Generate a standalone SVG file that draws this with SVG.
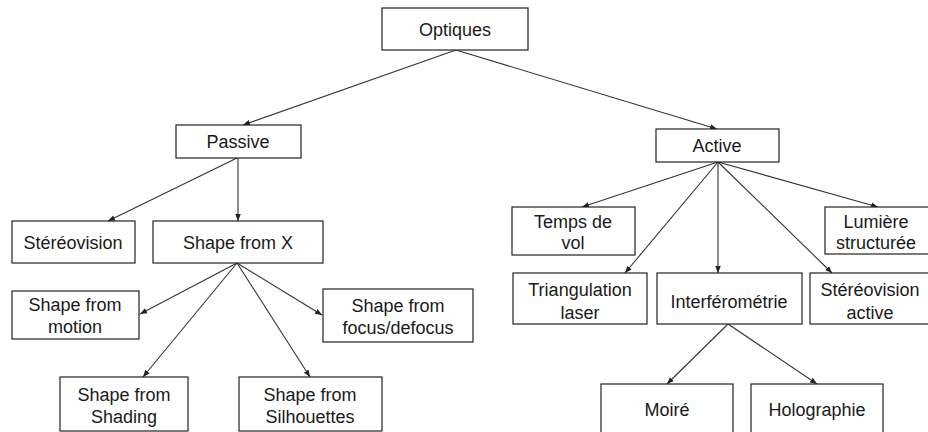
<svg xmlns="http://www.w3.org/2000/svg" width="928" height="432" viewBox="0 0 928 432">
<defs>
<marker id="ah" viewBox="0 0 10 10" refX="10" refY="5" markerWidth="7" markerHeight="7" markerUnits="userSpaceOnUse" orient="auto">
<path d="M0,1 L10,5 L0,9 z" fill="#222"/>
</marker>
<style>
rect{fill:#fff;stroke:#222;stroke-width:1.2}
text{font-family:"Liberation Sans",Arial,sans-serif;font-size:18px;fill:#1a1a1a;text-anchor:middle}
#edges line{stroke:#333;stroke-width:1.1;marker-end:url(#ah)}
</style>
</defs>
<rect x="0" y="0" width="928" height="432" style="fill:#fff;stroke:none"/>
<g id="edges">
<line x1="456" y1="50" x2="243" y2="125"/>
<line x1="456" y1="50" x2="717" y2="129"/>
<line x1="237" y1="158" x2="108" y2="221"/>
<line x1="238" y1="158" x2="238" y2="221"/>
<line x1="237" y1="263" x2="140" y2="314"/>
<line x1="237" y1="263" x2="322" y2="315"/>
<line x1="237" y1="263" x2="143" y2="377"/>
<line x1="237" y1="263" x2="310" y2="377"/>
<line x1="718" y1="162" x2="582" y2="207"/>
<line x1="718" y1="162" x2="878" y2="207"/>
<line x1="718" y1="162" x2="625" y2="273"/>
<line x1="718" y1="162" x2="718" y2="273"/>
<line x1="718" y1="162" x2="832" y2="273"/>
<line x1="728" y1="324" x2="667" y2="384"/>
<line x1="728" y1="324" x2="817" y2="384"/>
</g>
<g id="optiques"><rect x="382" y="8" width="146" height="42"/><text x="455" y="36">Optiques</text></g>
<g id="passive"><rect x="176" y="125" width="125" height="33"/><text x="238" y="148">Passive</text></g>
<g id="active"><rect x="656" y="129" width="123" height="33"/><text x="717" y="152">Active</text></g>
<g id="stereovision"><rect x="12" y="221" width="123" height="42"/><text x="73" y="249">Stéréovision</text></g>
<g id="shape-x"><rect x="153" y="221" width="170" height="42"/><text x="238" y="249">Shape from X</text></g>
<g id="shape-motion"><rect x="12" y="291" width="127" height="48"/><text x="75" y="311">Shape from</text><text x="75" y="333">motion</text></g>
<g id="shape-focus"><rect x="323" y="289" width="150" height="53"/><text x="398" y="312">Shape from</text><text x="398" y="334">focus/defocus</text></g>
<g id="shape-shading"><rect x="60" y="377" width="128" height="54"/><text x="124" y="401">Shape from</text><text x="124" y="423">Shading</text></g>
<g id="shape-silhouettes"><rect x="239" y="377" width="143" height="54"/><text x="310" y="401">Shape from</text><text x="310" y="423">Silhouettes</text></g>
<g id="temps-vol"><rect x="512" y="207" width="123" height="48"/><text x="573" y="228">Temps de</text><text x="573" y="249">vol</text></g>
<g id="lumiere"><rect x="825" y="207" width="110" height="47"/><text x="876" y="228">Lumière</text><text x="876" y="249">structurée</text></g>
<g id="triangulation"><rect x="513" y="273" width="134" height="51"/><text x="580" y="296">Triangulation</text><text x="580" y="319">laser</text></g>
<g id="interferometrie"><rect x="657" y="273" width="145" height="51"/><text x="729" y="308">Interférométrie</text></g>
<g id="stereo-active"><rect x="810" y="273" width="125" height="51"/><text x="870" y="296">Stéréovision</text><text x="870" y="319">active</text></g>
<g id="moire"><rect x="601" y="384" width="132" height="60"/><text x="667" y="416">Moiré</text></g>
<g id="holographie"><rect x="751" y="384" width="132" height="60"/><text x="817" y="416">Holographie</text></g>
</svg>
